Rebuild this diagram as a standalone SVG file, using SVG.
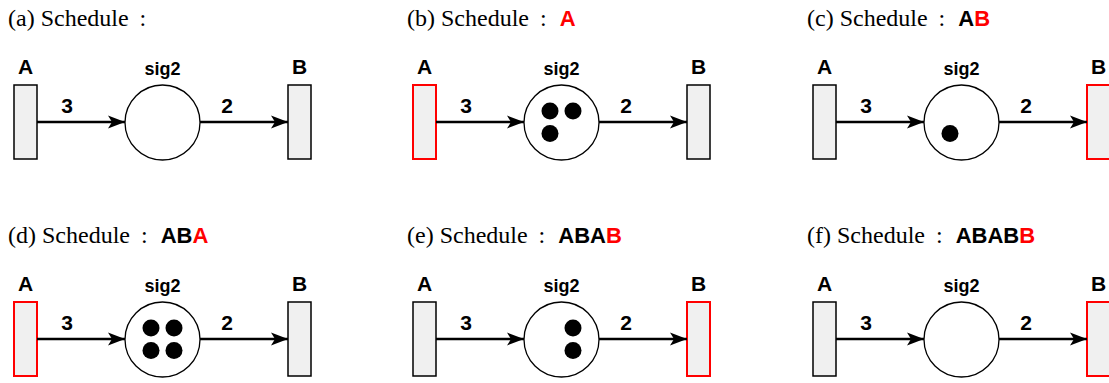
<svg xmlns="http://www.w3.org/2000/svg" width="1109" height="383" viewBox="0 0 1109 383">
<defs>
<style>
.title{font-family:"Liberation Serif","Times New Roman",serif;font-size:24px;fill:#000}
.seq{font-family:"Liberation Sans",Arial,sans-serif;font-weight:bold;font-size:22px}
.red{fill:#ff0000}
.lbl{font-family:"Liberation Sans",Arial,sans-serif;font-weight:bold;font-size:21px;fill:#000;text-anchor:middle}
.sig{font-family:"Liberation Sans",Arial,sans-serif;font-weight:bold;font-size:18px;fill:#000;text-anchor:middle}
.tr{fill:#f0f0f0;stroke:#000;stroke-width:1.5}
.tr.on{stroke:#ff0000;stroke-width:2}
.pl{fill:#fff;stroke:#000;stroke-width:1.3}
.tok{fill:#000}
.edge{stroke:#000;stroke-width:2.5;fill:none;marker-end:url(#arr)}
</style>
<marker id="arr" markerUnits="userSpaceOnUse" markerWidth="18" markerHeight="14" refX="17" refY="7" orient="auto">
<path d="M0,0.5 L17,7 L0,13.5 L4,7 Z" fill="#000"/>
</marker>
</defs>

<!-- Panel (a) -->
<g id="panel-a">
<text class="title" x="8" y="26">(a) Schedule<tspan dx="11">:</tspan></text>
<g id="a-A"><text class="lbl" x="25.5" y="74">A</text><rect class="tr" x="14" y="85" width="23" height="74"/></g>
<g id="a-sig2"><text class="sig" x="162.5" y="75">sig2</text><circle class="pl" cx="162.5" cy="122.5" r="37.5"/></g>
<g id="a-B"><text class="lbl" x="299.5" y="74">B</text><rect class="tr" x="288" y="85" width="23" height="74"/></g>
<g id="a-edges"><path class="edge" d="M37,122 H125"/><text class="lbl" x="67" y="113">3</text><path class="edge" d="M200,122 H288"/><text class="lbl" x="227" y="113">2</text></g>
</g>

<!-- Panel (b) -->
<g id="panel-b" transform="translate(399,0)">
<text class="title" x="8" y="26">(b) Schedule<tspan dx="11">:</tspan><tspan dx="13" class="seq red">A</tspan></text>
<g id="b-A"><text class="lbl" x="25.5" y="74">A</text><rect class="tr on" x="14" y="85" width="23" height="74"/></g>
<g id="b-sig2"><text class="sig" x="162.5" y="75">sig2</text><circle class="pl" cx="162.5" cy="122.5" r="37.5"/>
<circle class="tok" cx="151" cy="111" r="8.5"/><circle class="tok" cx="174" cy="111" r="8.5"/><circle class="tok" cx="151" cy="133.5" r="8.5"/></g>
<g id="b-B"><text class="lbl" x="299.5" y="74">B</text><rect class="tr" x="288" y="85" width="23" height="74"/></g>
<g id="b-edges"><path class="edge" d="M37,122 H125"/><text class="lbl" x="67" y="113">3</text><path class="edge" d="M200,122 H288"/><text class="lbl" x="227" y="113">2</text></g>
</g>

<!-- Panel (c) -->
<g id="panel-c" transform="translate(799,0)">
<text class="title" x="8" y="26">(c) Schedule<tspan dx="11">:</tspan><tspan dx="13" class="seq">A</tspan><tspan class="seq red">B</tspan></text>
<g id="c-A"><text class="lbl" x="25.5" y="74">A</text><rect class="tr" x="14" y="85" width="23" height="74"/></g>
<g id="c-sig2"><text class="sig" x="162.5" y="75">sig2</text><circle class="pl" cx="162.5" cy="122.5" r="37.5"/>
<circle class="tok" cx="151" cy="133.5" r="8.5"/></g>
<g id="c-B"><text class="lbl" x="299.5" y="74">B</text><rect class="tr on" x="288" y="85" width="23" height="74"/></g>
<g id="c-edges"><path class="edge" d="M37,122 H125"/><text class="lbl" x="67" y="113">3</text><path class="edge" d="M200,122 H288"/><text class="lbl" x="227" y="113">2</text></g>
</g>

<!-- Panel (d) -->
<g id="panel-d" transform="translate(0,217)">
<text class="title" x="8" y="26">(d) Schedule<tspan dx="11">:</tspan><tspan dx="13" class="seq">AB</tspan><tspan class="seq red">A</tspan></text>
<g id="d-A"><text class="lbl" x="25.5" y="74">A</text><rect class="tr on" x="14" y="85" width="23" height="74"/></g>
<g id="d-sig2"><text class="sig" x="162.5" y="75">sig2</text><circle class="pl" cx="162.5" cy="122.5" r="37.5"/>
<circle class="tok" cx="151" cy="111" r="8.5"/><circle class="tok" cx="174" cy="111" r="8.5"/><circle class="tok" cx="151" cy="133.5" r="8.5"/><circle class="tok" cx="174" cy="133.5" r="8.5"/></g>
<g id="d-B"><text class="lbl" x="299.5" y="74">B</text><rect class="tr" x="288" y="85" width="23" height="74"/></g>
<g id="d-edges"><path class="edge" d="M37,122 H125"/><text class="lbl" x="67" y="113">3</text><path class="edge" d="M200,122 H288"/><text class="lbl" x="227" y="113">2</text></g>
</g>

<!-- Panel (e) -->
<g id="panel-e" transform="translate(399,217)">
<text class="title" x="8" y="26">(e) Schedule<tspan dx="11">:</tspan><tspan dx="13" class="seq">ABA</tspan><tspan class="seq red">B</tspan></text>
<g id="e-A"><text class="lbl" x="25.5" y="74">A</text><rect class="tr" x="14" y="85" width="23" height="74"/></g>
<g id="e-sig2"><text class="sig" x="162.5" y="75">sig2</text><circle class="pl" cx="162.5" cy="122.5" r="37.5"/>
<circle class="tok" cx="174" cy="111" r="8.5"/><circle class="tok" cx="174" cy="133.5" r="8.5"/></g>
<g id="e-B"><text class="lbl" x="299.5" y="74">B</text><rect class="tr on" x="288" y="85" width="23" height="74"/></g>
<g id="e-edges"><path class="edge" d="M37,122 H125"/><text class="lbl" x="67" y="113">3</text><path class="edge" d="M200,122 H288"/><text class="lbl" x="227" y="113">2</text></g>
</g>

<!-- Panel (f) -->
<g id="panel-f" transform="translate(799,217)">
<text class="title" x="8" y="26">(f) Schedule<tspan dx="11">:</tspan><tspan dx="13" class="seq">ABAB</tspan><tspan class="seq red">B</tspan></text>
<g id="f-A"><text class="lbl" x="25.5" y="74">A</text><rect class="tr" x="14" y="85" width="23" height="74"/></g>
<g id="f-sig2"><text class="sig" x="162.5" y="75">sig2</text><circle class="pl" cx="162.5" cy="122.5" r="37.5"/></g>
<g id="f-B"><text class="lbl" x="299.5" y="74">B</text><rect class="tr on" x="288" y="85" width="23" height="74"/></g>
<g id="f-edges"><path class="edge" d="M37,122 H125"/><text class="lbl" x="67" y="113">3</text><path class="edge" d="M200,122 H288"/><text class="lbl" x="227" y="113">2</text></g>
</g>
</svg>
